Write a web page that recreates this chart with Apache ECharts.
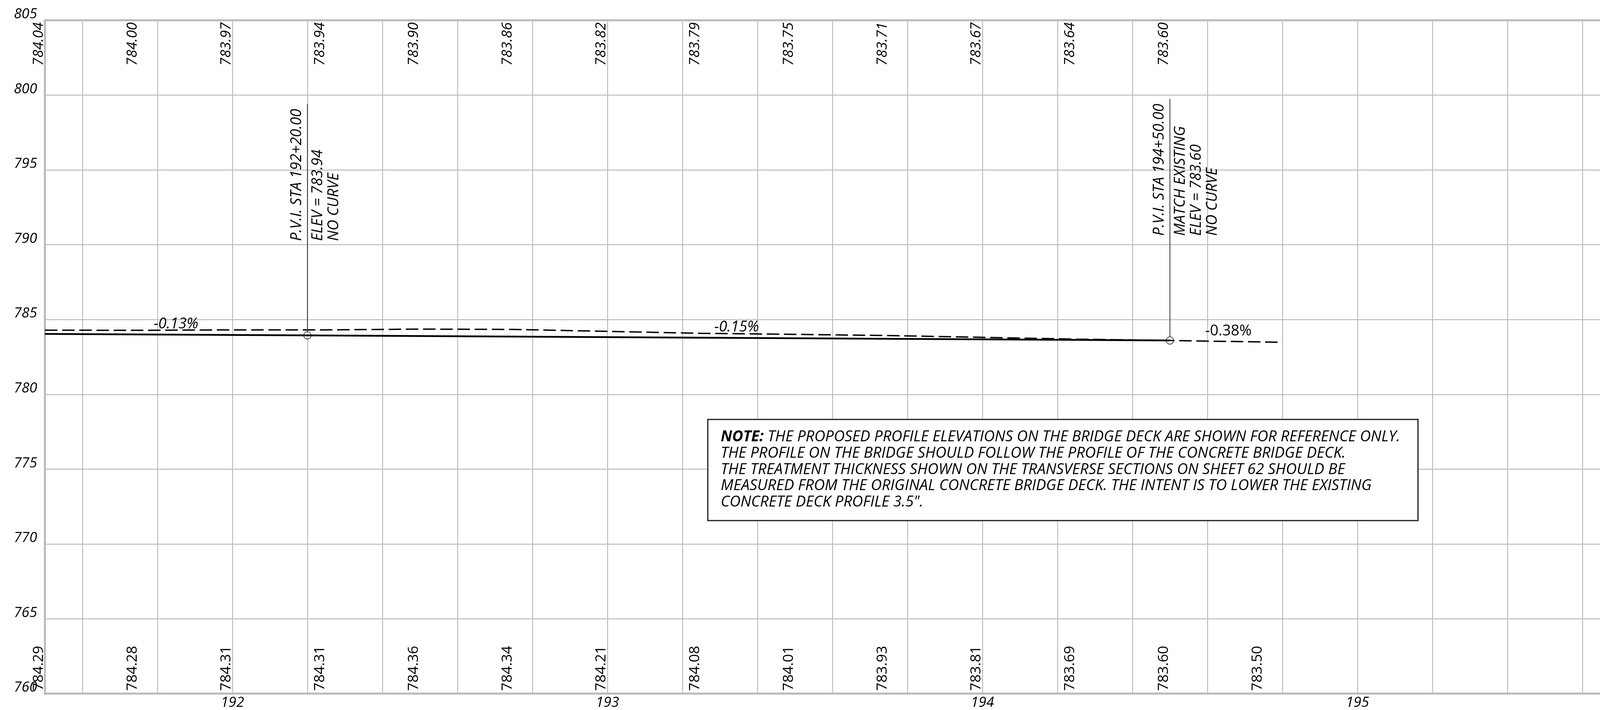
<!DOCTYPE html>
<html><head><meta charset="utf-8">
<script src="https://cdn.jsdelivr.net/npm/echarts@6/dist/echarts.min.js"></script>
<style>html,body{margin:0;padding:0;background:#fff}#c{width:5028px;height:1818px}</style>
</head><body><div id="c"></div>
<script>
// ---- data ----
const labelStations = [191.5,191.75,192,192.25,192.5,192.75,193,193.25,193.5,193.75,194,194.25,194.5,194.75];
const proposedLabels = ['784.04','784.00','783.97','783.94','783.90','783.86','783.82','783.79','783.75','783.71','783.67','783.64','783.60'];
const existingLabels = ['784.29','784.28','784.31','784.31','784.36','784.34','784.21','784.08','784.01','783.93','783.81','783.69','783.60','783.50'];
const existingEndStation = 194.8;
const existingEndElev = 783.48;
const profileStations = [191.5, 192.2, 194.5];
const profileElev = [784.04, 783.94, 783.60];
const pviStations = [192.2, 194.5];
const pviElev = [783.94, 783.60];
const pviLeaderTop = [799.4, 799.75];
const pviTextBottom = [790.25, 790.6];
const pviTexts = [
  ['P.V.I. STA 192+20.00', 'ELEV = 783.94', 'NO CURVE'],
  ['P.V.I. STA 194+50.00', 'MATCH EXISTING', 'ELEV = 783.60', 'NO CURVE']
];
const gradeTexts = ['-0.13%', '-0.15%', '-0.38%'];
const gradeStations = [191.79, 193.285, 194.594];
const gradeElev = [784.676, 784.467, 784.207];
const gradeItalic = [true, true, false];
const noteLines = [
  '{b|NOTE:} THE PROPOSED PROFILE ELEVATIONS ON THE BRIDGE DECK ARE SHOWN FOR REFERENCE ONLY.',
  'THE PROFILE ON THE BRIDGE SHOULD FOLLOW THE PROFILE OF THE CONCRETE BRIDGE DECK.',
  'THE TREATMENT THICKNESS SHOWN ON THE TRANSVERSE SECTIONS ON SHEET 62 SHOULD BE',
  'MEASURED FROM THE ORIGINAL CONCRETE BRIDGE DECK. THE INTENT IS TO LOWER THE EXISTING',
  'CONCRETE DECK PROFILE 3.5".'
];
const xMin = 191.5, xMax = 196.5, yMin = 760, yMax = 805, yStep = 5;

// ---- build ----
const FONT = '"Open Sans", "Noto Sans", sans-serif';
const GRID = '#bcbcbc';
const existingLine = labelStations.map((s, i) => [s, parseFloat(existingLabels[i])]);
existingLine.push([existingEndStation, existingEndElev]);
const proposedLine = profileStations.map((s, i) => [s, profileElev[i]]);

const chart = echarts.init(document.getElementById('c'), null, {renderer: 'canvas'});
chart.setOption({
  animation: false,
  backgroundColor: '#fff',
  grid: {left: 115, right: 113, top: 52, bottom: 39, show: true, borderColor: '#b4b4b4', borderWidth: 5, backgroundColor: 'transparent'},
  xAxis: {
    type: 'value', min: xMin, max: xMax, splitNumber: 25,
    axisLine: {show: false}, axisTick: {show: false},
    splitLine: {show: true, lineStyle: {color: GRID, width: 2.5}},
    axisLabel: {
      margin: 6, color: '#000', fontFamily: FONT, fontStyle: 'italic', fontSize: 36,
      formatter: v => (Math.abs(v - Math.round(v)) < 1e-6 && v > xMin + 0.01) ? String(Math.round(v)) : ''
    }
  },
  yAxis: [
    {type: 'value', min: yMin, max: yMax, interval: yStep, position: 'left',
     axisLine: {show: false}, axisTick: {show: false},
     splitLine: {show: true, lineStyle: {color: GRID, width: 2.5}},
     axisLabel: {margin: 20, color: '#000', fontFamily: FONT, fontStyle: 'italic', fontSize: 36, lineHeight: 30, verticalAlign: 'bottom'}},
    {type: 'value', min: yMin, max: yMax, interval: yStep, position: 'right',
     axisLine: {show: false}, axisTick: {show: false}, splitLine: {show: false},
     axisLabel: {margin: 20, color: '#000', fontFamily: FONT, fontStyle: 'italic', fontSize: 36, lineHeight: 30, verticalAlign: 'bottom'}}
  ],
  series: [
    {type: 'line', name: 'existing', data: existingLine, symbol: 'none', z: 3,
     lineStyle: {color: '#000', width: 3.5, type: [32, 12]}},
    {type: 'line', name: 'proposed', data: proposedLine, symbol: 'none', z: 4,
     lineStyle: {color: '#000', width: 4.5}},
    {type: 'custom', name: 'pviLeaders', z: 5,
     data: pviStations.map((s, i) => [s, pviElev[i], pviLeaderTop[i]]),
     renderItem: (params, api) => {
       const p0 = api.coord([api.value(0), api.value(1)]);
       const p1 = api.coord([api.value(0), api.value(2)]);
       return {type: 'line', shape: {x1: p0[0], y1: p0[1] - 9, x2: p1[0], y2: p1[1]},
               style: {stroke: '#333', lineWidth: 2}};
     }},
    {type: 'scatter', name: 'pvi', z: 6, data: pviStations.map((s, i) => [s, pviElev[i]]),
     symbol: 'circle', symbolSize: 19,
     itemStyle: {color: 'rgba(0,0,0,0)', borderColor: '#222', borderWidth: 2}},
    {type: 'custom', name: 'proposedLabels', z: 7,
     data: proposedLabels.map((t, i) => [labelStations[i], yMax, i]),
     renderItem: (params, api) => {
       const p = api.coord([api.value(0), api.value(1)]);
       return {type: 'text', x: p[0] - 16, y: p[1] + 5, rotation: Math.PI / 2,
               style: {text: proposedLabels[api.value(2)], font: 'italic 37px ' + FONT, fill: '#000', align: 'right', verticalAlign: 'middle'}};
     }},
    {type: 'custom', name: 'existingLabels', z: 7,
     data: existingLabels.map((t, i) => [labelStations[i], yMin, i]),
     renderItem: (params, api) => {
       const p = api.coord([api.value(0), api.value(1)]);
       return {type: 'text', x: p[0] - 16, y: p[1] - 7, rotation: Math.PI / 2,
               style: {text: existingLabels[api.value(2)], font: '37px ' + FONT, fill: '#000', align: 'left', verticalAlign: 'middle'}};
     }},
    {type: 'custom', name: 'pviText', z: 7,
     data: pviStations.map((s, i) => [s, pviTextBottom[i], i]),
     renderItem: (params, api) => {
       const p = api.coord([api.value(0), api.value(1)]);
       const lines = pviTexts[api.value(2)];
       const children = lines.map((t, k) => ({
         type: 'text', x: p[0] + (k === 0 ? -26.5 : 27 + 41 * (k - 1)), y: p[1], rotation: Math.PI / 2,
         style: {text: t, font: 'italic 38px ' + FONT, fill: '#000', align: 'left', verticalAlign: 'middle'}
       }));
       return {type: 'group', children};
     }},
    {type: 'custom', name: 'grades', z: 7,
     data: gradeStations.map((s, i) => [s, gradeElev[i], i]),
     renderItem: (params, api) => {
       const p = api.coord([api.value(0), api.value(1)]);
       const i = api.value(2);
       return {type: 'text', x: p[0], y: p[1],
               style: {text: gradeTexts[i], font: (gradeItalic[i] ? 'italic ' : '') + '38px ' + FONT, fill: '#000', align: 'left', verticalAlign: 'middle'}};
     }}
  ],
  graphic: [
    {type: 'rect', z: 100, shape: {x: 1812, y: 1074, width: 1818, height: 259},
     style: {fill: '#fff', stroke: '#1a1a1a', lineWidth: 3}},
    {type: 'text', z: 101, x: 1845, y: 1098,
     style: {text: noteLines.join('\n'), font: 'italic 38.7px ' + FONT, fill: '#000', lineHeight: 41.8,
             align: 'left', verticalAlign: 'top',
             rich: {b: {fontWeight: 'bold', fontStyle: 'italic', fontSize: 38.7, fontFamily: FONT, lineHeight: 41.8}}}}
  ]
});
</script></body></html>
